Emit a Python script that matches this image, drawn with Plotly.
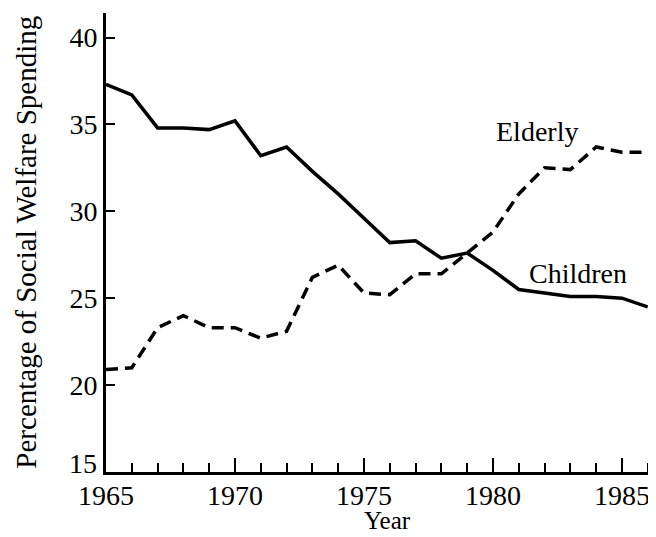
import plotly.graph_objects as go

years = list(range(1965, 1987))
children = [37.3, 36.7, 34.8, 34.8, 34.7, 35.2, 33.2, 33.7, 32.3, 31.0, 29.6, 28.2,
            28.3, 27.3, 27.6, 26.6, 25.5, 25.3, 25.1, 25.1, 25.0, 24.5]
elderly = [20.9, 21.0, 23.3, 24.0, 23.3, 23.3, 22.7, 23.1, 26.2, 26.9, 25.3, 25.2,
           26.4, 26.4, 27.6, 28.8, 31.0, 32.5, 32.4, 33.7, 33.4, 33.4]
x_ticks = [1965, 1970, 1975, 1980, 1985]
y_ticks = [15, 20, 25, 30, 35, 40]
y_ticktext = ["", "20", "25", "30", "35", "40"]  # "15" drawn raised, as in the original
y_bottom_label = "15"
labels = ["Elderly", "Children"]
label_pos = [(1981.7, 34.6), (1983.3, 26.45)]
x_title = "Year"
y_title = "Percentage of Social Welfare Spending"

FONT = "Liberation Serif, Times New Roman, serif"

fig = go.Figure()
fig.add_trace(go.Scatter(x=years, y=children, mode="lines",
                         line=dict(color="black", width=3.5), showlegend=False))
fig.add_trace(go.Scatter(x=years, y=elderly, mode="lines",
                         line=dict(color="black", width=3.5, dash="12px,7px"),
                         showlegend=False))

for txt, (lx, ly) in zip(labels, label_pos):
    fig.add_annotation(x=lx, y=ly, text=txt, showarrow=False,
                       font=dict(family=FONT, size=28, color="black"))

# bottom y tick label, lifted slightly so it clears the x labels
fig.add_annotation(xref="paper", yref="y", x=0, y=y_ticks[0], text=y_bottom_label,
                   showarrow=False, xanchor="right", yanchor="middle",
                   xshift=-7, yshift=9, font=dict(family=FONT, size=28, color="black"))

# axis titles as paper-anchored annotations
fig.add_annotation(xref="paper", yref="paper", x=0.512, y=-0.106, text=x_title,
                   showarrow=False, xanchor="center", yanchor="middle",
                   font=dict(family=FONT, size=25, color="black"))
fig.add_annotation(xref="paper", yref="paper", x=-0.147, y=0.5, text=y_title,
                   showarrow=False, xanchor="center", yanchor="middle", textangle=-90,
                   font=dict(family=FONT, size=29, color="black"))

# page body has an 8px margin, so the figure is sized/offset accordingly
fig.update_layout(
    width=648, height=529,
    margin=dict(l=98, r=0, t=5, b=65, autoexpand=False),
    paper_bgcolor="white", plot_bgcolor="white",
    font=dict(family=FONT, size=25, color="black"),
    xaxis=dict(range=[1965, 1986.32], tickvals=x_ticks, showgrid=False, zeroline=False,
               showline=True, linecolor="black", linewidth=3,
               ticks="inside", ticklen=14, tickwidth=2, tickcolor="black",
               minor=dict(dtick=1, tick0=1965, ticks="inside", ticklen=9, tickwidth=2,
                          tickcolor="black", showgrid=False),
               tickfont=dict(size=28), ticklabelstandoff=-4, automargin=False),
    yaxis=dict(range=[15, 41.41], tickvals=y_ticks, ticktext=y_ticktext,
               showgrid=False, zeroline=False,
               showline=True, linecolor="black", linewidth=3,
               ticks="inside", ticklen=9, tickwidth=2, tickcolor="black",
               tickfont=dict(size=28), ticklabelstandoff=0, automargin=False),
)

fig.write_html("out.html")
